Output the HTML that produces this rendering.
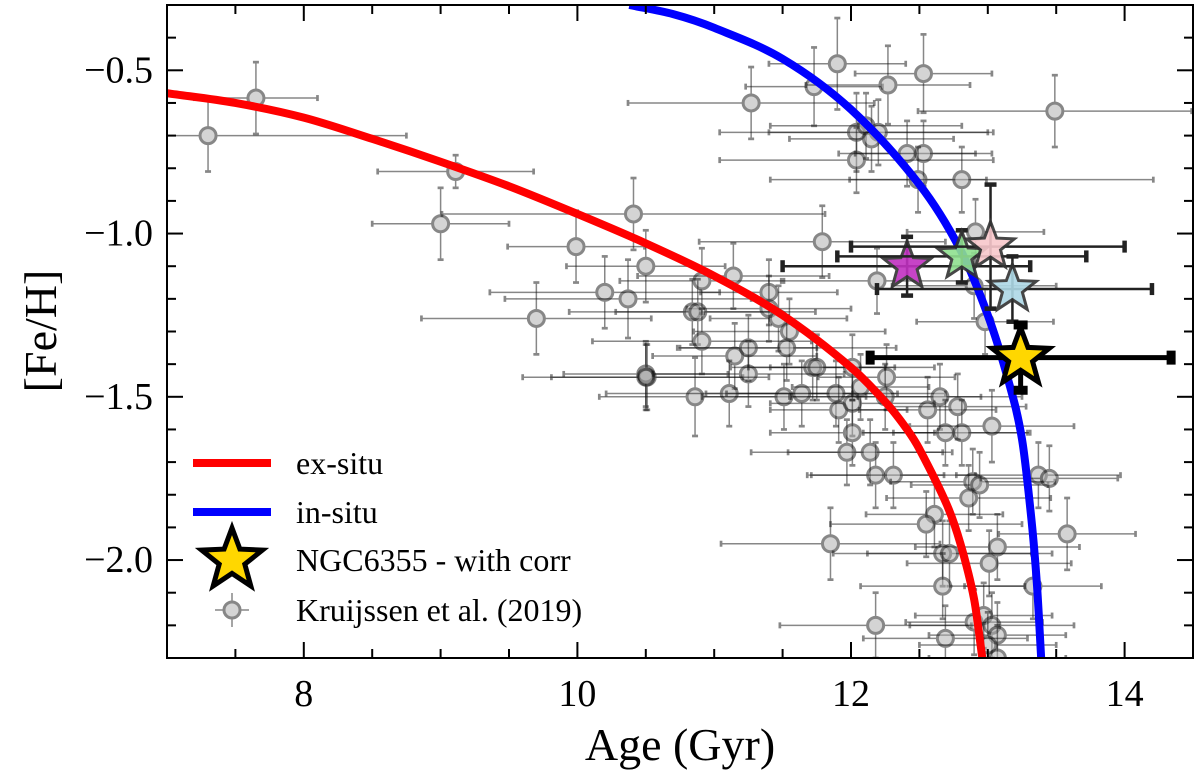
<!DOCTYPE html>
<html><head><meta charset="utf-8"><style>
html,body{margin:0;padding:0;background:#fff}
svg{display:block}
text{font-family:"Liberation Serif","Noto Serif CJK SC","DejaVu Serif",serif;fill:#000}
</style></head><body>
<svg id="chart" width="1200" height="775" viewBox="0 0 1200 775">
<g id="gdata"></g>
<g id="gcurves"></g>
<g id="gstars"></g>
<g id="gaxes"></g>
<g id="glegend"></g>
</svg>
<script>
const xTicks=[8,10,12,14];
const yTicks=[-0.5,-1.0,-1.5,-2.0];
const yTickLabels=["\u22120.5","\u22121.0","\u22121.5","\u22122.0"];
const exAge=[7,7.5,8,8.5,9,9.5,10,10.5,11,11.5,12,12.26,12.41,12.5,12.7,12.8,12.9,12.96];
const exFeh=[-0.57,-0.60,-0.645,-0.71,-0.78,-0.855,-0.94,-1.03,-1.13,-1.25,-1.41,-1.52,-1.60,-1.66,-1.83,-1.95,-2.12,-2.3];
const inAge=[10.38,10.7,11,11.5,12,12.5,12.8,13,13.15,13.25,13.32,13.36,13.39];
const inFeh=[-0.3,-0.328,-0.37,-0.465,-0.62,-0.85,-1.05,-1.25,-1.45,-1.63,-1.88,-2.08,-2.3];
const kAge=[7.30,7.65,9.11,9.0,9.99,10.41,10.5,10.2,10.37,9.70,10.51,10.5,10.91,11.14,11.40,11.40,11.47,11.55,10.84,10.88,10.91,11.15,11.25,11.53,11.25,11.72,11.75,10.5,10.86,11.11,11.51,11.64,11.89,11.91,12.01,12.01,12.07,12.26,12.25,12.56,12.65,12.01,11.97,12.14,12.19,12.78,12.69,12.81,13.03,12.18,12.31,12.89,12.94,13.37,13.45,12.86,12.61,12.55,11.85,13.07,13.01,13.58,12.67,12.72,12.67,13.33,12.18,12.90,12.97,13.03,13.07,12.69,13.0,13.07,11.90,11.73,12.27,12.53,11.27,13.49,12.04,12.11,12.2,12.15,12.04,12.41,12.53,12.49,12.81,11.79,12.91,12.9,12.98];
const kFeh=[-0.70,-0.585,-0.81,-0.97,-1.04,-0.94,-1.10,-1.18,-1.20,-1.26,-1.44,-1.43,-1.145,-1.13,-1.18,-1.23,-1.26,-1.30,-1.24,-1.24,-1.33,-1.375,-1.35,-1.35,-1.43,-1.41,-1.41,-1.44,-1.50,-1.49,-1.50,-1.49,-1.49,-1.54,-1.52,-1.41,-1.47,-1.44,-1.50,-1.54,-1.50,-1.61,-1.67,-1.67,-1.145,-1.53,-1.61,-1.61,-1.59,-1.74,-1.74,-1.76,-1.77,-1.74,-1.75,-1.81,-1.86,-1.89,-1.95,-1.96,-2.01,-1.92,-1.98,-1.98,-2.08,-2.08,-2.20,-2.19,-2.17,-2.20,-2.23,-2.24,-2.26,-2.30,-0.48,-0.55,-0.545,-0.51,-0.60,-0.625,-0.69,-0.67,-0.69,-0.71,-0.775,-0.755,-0.755,-0.835,-0.835,-1.025,-0.995,-1.16,-1.27];
const kXerr=[1.45,0.45,0.57,0.5,0.5,1.4,0.58,0.84,0.9,0.84,0.7,0.6,0.6,0.7,0.5,0.6,0.5,0.7,0.9,0.6,0.8,0.6,0.5,0.8,0.7,0.6,0.5,0.9,0.7,0.9,0.6,0.7,0.8,0.5,0.6,0.6,0.5,0.5,0.7,0.5,0.6,0.6,0.7,0.6,0.7,0.5,0.6,0.5,0.6,0.5,0.6,0.6,0.5,0.6,0.5,0.6,0.5,0.7,0.8,0.6,0.6,0.5,0.8,0.6,0.6,0.5,0.7,0.5,0.5,0.6,0.5,0.6,0.5,0.5,0.5,0.5,0.6,0.5,0.9,1.0,1.0,0.7,0.8,0.6,1.0,0.5,0.5,0.5,1.4,0.9,0.5,0.6,0.5];
const kYerr=[0.11,0.11,0.05,0.11,0.11,0.11,0.11,0.11,0.12,0.11,0.1,0.1,0.1,0.1,0.1,0.1,0.1,0.1,0.1,0.1,0.1,0.1,0.1,0.1,0.1,0.1,0.1,0.1,0.12,0.1,0.1,0.1,0.1,0.1,0.1,0.1,0.1,0.1,0.1,0.1,0.1,0.1,0.1,0.1,0.1,0.1,0.1,0.1,0.11,0.1,0.1,0.1,0.1,0.1,0.1,0.1,0.1,0.1,0.11,0.1,0.1,0.11,0.1,0.1,0.1,0.1,0.1,0.1,0.1,0.1,0.1,0.1,0.1,0.1,0.14,0.12,0.12,0.12,0.11,0.11,0.12,0.1,0.1,0.1,0.1,0.1,0.1,0.1,0.1,0.11,0.1,0.1,0.1];
const starAge=[12.41,12.81,13.02,13.18,13.24];
const starFeh=[-1.10,-1.07,-1.04,-1.17,-1.38];
const starXlo=[11.5,11.9,12.0,12.19,12.14];
const starXhi=[13.31,13.72,14.0,14.2,14.34];
const starYerr=[0.09,0.08,0.19,0.1,0.1];
const starColors=["#c030c0","#90e090","#f8c8cc","#add8e6","#ffd700"];

const L=167,R=1193,T=5,B=658,X0=7,X1=14.5,Y0=-2.3,Y1=-0.3;
const sx=v=>L+(v-X0)/(X1-X0)*(R-L);
const sy=v=>B-(v-Y0)/(Y1-Y0)*(B-T);
const NS="http://www.w3.org/2000/svg";
const SERIF="'Liberation Serif', 'Noto Serif CJK SC', 'DejaVu Serif', serif";
function mk(tag,attrs,parent){const e=document.createElementNS(NS,tag);for(const k in attrs)e.setAttribute(k,attrs[k]);parent.appendChild(e);return e;}
const svg=document.getElementById('chart');
const gd=document.getElementById('gdata'),gc=document.getElementById('gcurves'),gs=document.getElementById('gstars'),ga=document.getElementById('gaxes'),gl=document.getElementById('glegend');
const cp=mk('clipPath',{id:'clip'},svg);
mk('rect',{x:L,y:T,width:R-L,height:B-T},cp);
gd.setAttribute('clip-path','url(#clip)');gc.setAttribute('clip-path','url(#clip)');

function errbar(g,x,y,x0,x1,y0,y1,col,w,cap){
  mk('line',{x1:sx(x0),y1:sy(y),x2:sx(x1),y2:sy(y),stroke:col,'stroke-width':w},g);
  mk('line',{x1:sx(x),y1:sy(y0),x2:sx(x),y2:sy(y1),stroke:col,'stroke-width':w},g);
  [[sx(x0),sy(y)],[sx(x1),sy(y)]].forEach(p=>mk('line',{x1:p[0],y1:p[1]-cap,x2:p[0],y2:p[1]+cap,stroke:col,'stroke-width':w*1.8},g));
  [[sx(x),sy(y0)],[sx(x),sy(y1)]].forEach(p=>mk('line',{x1:p[0]-cap,y1:p[1],x2:p[0]+cap,y2:p[1],stroke:col,'stroke-width':w*1.8},g));
}
for(let i=0;i<kAge.length;i++){
  const g=mk('g',{opacity:0.5},gd);
  
  
  errbar(g,kAge[i],kFeh[i],kAge[i]-kXerr[i],kAge[i]+kXerr[i],kFeh[i]-kYerr[i],kFeh[i]+kYerr[i],'#111',1.5,3);
  mk('circle',{cx:sx(kAge[i]),cy:sy(kFeh[i]),r:8,fill:'#aaa',stroke:'#111','stroke-width':3},g);
}
function curve(ax,ay,col,name){
  const n=ax.length,m=[];
  for(let i=0;i<n;i++){
    const a=Math.max(i-1,0),b=Math.min(i+1,n-1);
    m.push((ay[b]-ay[a])/(ax[b]-ax[a]));
  }
  let d='M'+sx(ax[0])+','+sy(ay[0]);
  for(let i=0;i<n-1;i++){
    const h=ax[i+1]-ax[i];
    d+=' C'+sx(ax[i]+h/3)+','+sy(ay[i]+m[i]*h/3)+' '+sx(ax[i+1]-h/3)+','+sy(ay[i+1]-m[i+1]*h/3)+' '+sx(ax[i+1])+','+sy(ay[i+1]);
  }
  const p=mk('path',{d:d,fill:'none',stroke:col,'stroke-width':8,'stroke-linejoin':'round'},gc);
  
  
}
curve(exAge,exFeh,'#ff0000','ex-situ-curve');
curve(inAge,inFeh,'#0000ff','in-situ-curve');

function starPath(cx,cy,r){let d='';for(let k=0;k<10;k++){const rr=k%2?r*0.42:r;const a=-Math.PI/2+k*Math.PI/5;d+=(k?'L':'M')+(cx+rr*Math.cos(a)).toFixed(1)+','+(cy+rr*Math.sin(a)).toFixed(1);}return d+'Z';}
for(let i=0;i<starAge.length;i++){
  const big=i===starAge.length-1;
  const g=mk('g',{},gs);
  
  
  errbar(g,starAge[i],starFeh[i],starXlo[i],starXhi[i],starFeh[i]-starYerr[i],starFeh[i]+starYerr[i],big?'#000':'#222',big?5:2.5,big?7:6);
  mk('path',{d:starPath(sx(starAge[i]),sy(starFeh[i]),big?30:25),fill:starColors[i],stroke:big?'#000':'#333','stroke-width':big?5:3,opacity:big?1:0.9},g);
}

mk('rect',{x:L,y:T,width:R-L,height:B-T,fill:'none',stroke:'#000','stroke-width':2},ga);
for(let v=7.5;v<=14.5;v+=0.5){
  const maj=Math.abs(v/2-Math.round(v/2))<1e-6;const len=maj?16:9;const x=sx(v);
  mk('line',{x1:x,y1:B,x2:x,y2:B-len,stroke:'#000','stroke-width':2},ga);
  mk('line',{x1:x,y1:T,x2:x,y2:T+len,stroke:'#000','stroke-width':2},ga);
}
for(let k=-22;k<=-4;k++){
  const v=k/10;const maj=k%5===0;const len=maj?16:9;const y=sy(v);
  mk('line',{x1:L,y1:y,x2:L+len,y2:y,stroke:'#000','stroke-width':2},ga);
  mk('line',{x1:R,y1:y,x2:R-len,y2:y,stroke:'#000','stroke-width':2},ga);
}
xTicks.forEach(v=>{const t=mk('text',{x:sx(v),y:B+48,'text-anchor':'middle','font-size':38,'font-family':SERIF},ga);t.textContent=v;
  
  });
yTicks.forEach((v,i)=>{const t=mk('text',{x:L-14,y:sy(v)+12,'text-anchor':'end','font-size':38,'font-family':SERIF},ga);t.textContent=yTickLabels[i];
  
  });
const xt=mk('text',{x:(L+R)/2,y:760,'text-anchor':'middle','font-size':46,'font-family':SERIF},ga);xt.textContent='Age (Gyr)';


const yt=mk('text',{x:0,y:0,'text-anchor':'middle','font-size':46,'font-family':SERIF,transform:'translate(56,331) rotate(-90)'},ga);yt.textContent='[Fe/H]';



function ltext(s,y){const t=mk('text',{x:296,y:y+11,'font-size':32,'font-family':SERIF},gl);t.textContent=s;
  
  }
const l1=mk('line',{x1:193,y1:463,x2:271,y2:463,stroke:'#ff0000','stroke-width':8},gl);


ltext('ex-situ',463);
const l2=mk('line',{x1:193,y1:512,x2:271,y2:512,stroke:'#0000ff','stroke-width':8},gl);


ltext('in-situ',512);
const ls=mk('path',{d:starPath(232,560,32),fill:'#ffd700',stroke:'#000','stroke-width':5},gl);


ltext('NGC6355 - with corr',560);
const lk=mk('g',{opacity:0.5},gl);


[[215,610,249,610],[232,593,232,627]].forEach(a=>mk('line',{x1:a[0],y1:a[1],x2:a[2],y2:a[3],stroke:'#111','stroke-width':1.5},lk));
mk('circle',{cx:232,cy:610,r:8,fill:'#aaa',stroke:'#111','stroke-width':3},lk);
ltext('Kruijssen et al. (2019)',610);
</script>
</body></html>
